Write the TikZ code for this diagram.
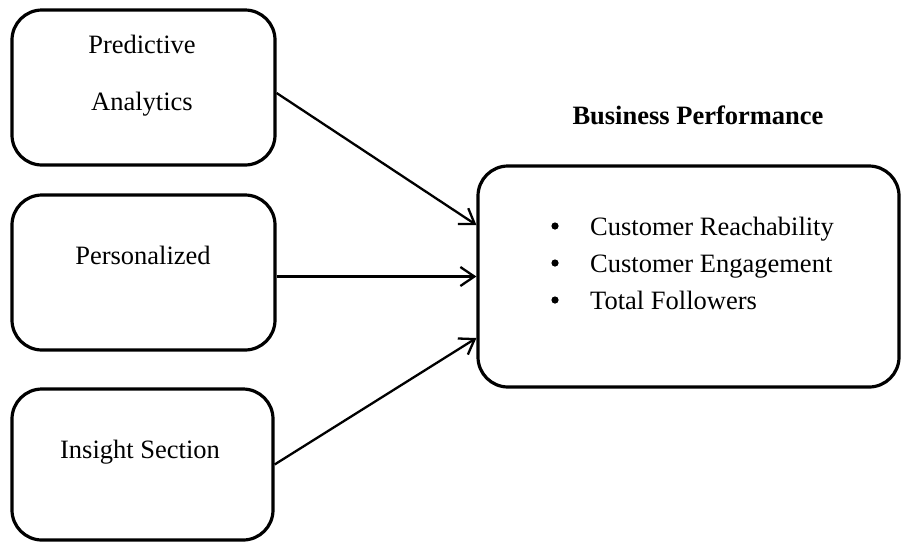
\documentclass[tikz,border=0pt]{standalone}
\usepackage{fontspec}
\setmainfont{Liberation Serif}
\usetikzlibrary{arrows.meta, positioning, calc}

\tikzset{
  panel/.style={draw, line width=3.2pt, rounded corners=30pt, inner sep=0pt},
  label/.style={font=\fontsize{26.5}{30}\selectfont, anchor=base, inner sep=0pt},
  link/.style={line width=2.3pt, -{Straight Barb[length=14pt, width=19pt, line width=2.3pt]}}
}

\begin{document}
\begin{tikzpicture}[x=1pt, y=-1pt]
\useasboundingbox (0,0) rectangle (901,542);
% Left column of factors
\node[panel, minimum width=263pt, minimum height=155pt] (predictive) at (143.5,87.5) {};
\node[label] (predictiveA) at (142,53) {Predictive};
\node[label] (predictiveB) at (142,110) {Analytics};
\node[panel, minimum width=263pt, minimum height=155pt] (personal) at (143.5,272.5) {};
\node[label] (personalT) at (143,264) {Personalized};
\node[panel, minimum width=261pt, minimum height=151pt] (insight) at (142.5,464.5) {};
\node[label] (insightT) at (140,458) {Insight Section};
% Outcome box
\node[label, font=\fontsize{26.5}{30}\selectfont\bfseries] (perfT) at (698,124) {Business Performance};
\node[panel, minimum width=421pt, minimum height=221pt] (perf) at (688.5,276.5) {};
\node[label, anchor=base west] (bulletA) at (590,235) {Customer Reachability};
\node[label, anchor=base west] (bulletB) at (590,272) {Customer Engagement};
\node[label, anchor=base west] (bulletC) at (590,309) {Total Followers};
\foreach \b in {bulletA, bulletB, bulletC}
  \fill ($(\b.base west)+(-35,-9)$) circle (3.6pt);
% Arrows into the outcome box
\coordinate (inA) at ($(perf.west)+(0,-51.5)$);
\coordinate (inC) at ($(perf.west)+(0,61.5)$);
\draw[link] (predictive.east |- 0,93) -- (inA);
\draw[link] (personal.east |- perf.west) -- (perf.west);
\draw[link] (insight.east) -- (inC);
\end{tikzpicture}
\end{document}
